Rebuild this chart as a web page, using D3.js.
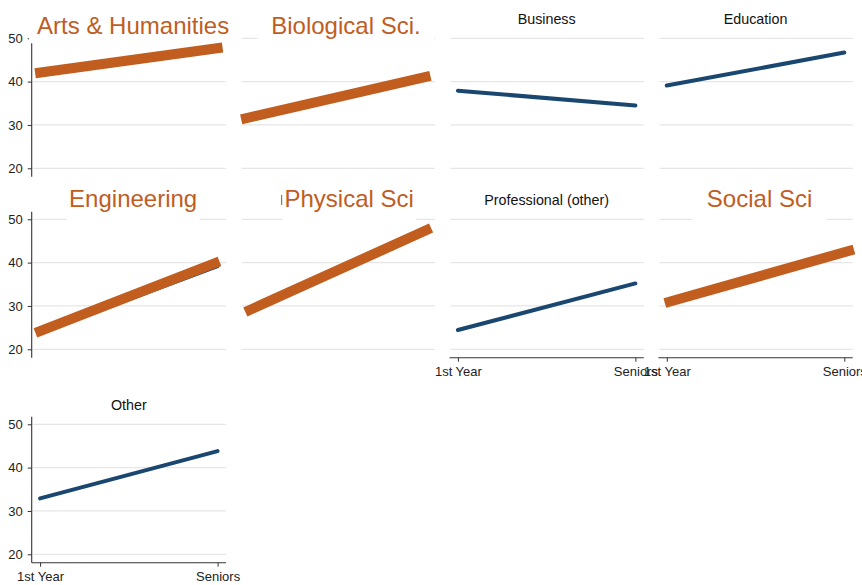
<!DOCTYPE html>
<html><head><meta charset="utf-8">
<script src="https://cdn.jsdelivr.net/npm/d3@7"></script>
<style>
html,body{margin:0;padding:0;background:#fff;}
svg{display:block;font-family:"Liberation Sans",Arial,Helvetica,sans-serif;}
</style></head>
<body><svg id="c" width="862" height="585"></svg>
<script>
// ---- data ----
const categories = ["1st Year", "Seniors"];
const panels = ["Arts & Humanities", "Biological Sciences", "Business", "Education",
  "Engineering", "Physical Sciences", "Professional (other)", "Social Sciences", "Other"];
const firstYear = [42.1, 31.7, 37.9, 39.1, 23.9, 29.0, 24.45, 30.8, 32.9];
const seniors   = [47.7, 41.1, 34.5, 46.7, 39.2, 47.5, 35.2, 42.4, 43.8];
const yTicks = [20, 30, 40, 50];
// highlighted overlays
const hlPanels  = ["Arts & Humanities", "Biological Sciences", "Engineering", "Physical Sciences", "Social Sciences"];
const hlLabels  = ["Arts & Humanities", "Biological Sci.", "Engineering", "Physical Sci", "Social Sci"];
const hlFirst   = [42.1, 31.7, 24.2, 29.0, 30.8];
const hlSeniors = [47.7, 41.1, 40.1, 47.5, 42.4];

// ---- layout / style ----
const BLUE = "#1a476f", ORANGE = "#c05d1f", GRID = "#e6e6e6", AX = "#333";
const rowTop = [30.7, 211.7, 416.7], panelH = 146;
const colLeft0 = 31.7, colStep = 208.9, panelW = 194.3, xPad = 8.4;
const xAxisPanels = ["Professional (other)", "Social Sciences", "Other"];
const hlStyle = {
  "Arts & Humanities":   {dx: 4.3,  dy: 3.3,  boxW: 208, padB: 9.3, ext: [5, 5]},
  "Biological Sciences": {dx: 8.2,  dy: 3.3,  boxW: 176, padB: 9.3, ext: [8, 4]},
  "Engineering":         {dx: 4.3,  dy: -4.4, boxW: 133, padB: 13,  ext: [5, 2]},
  "Physical Sciences":   {dx: 11.4, dy: -4.4, boxW: 134, padB: 13,  ext: [4, 5]},
  "Social Sciences":     {dx: 4,    dy: -4.4, boxW: 134, padB: 13,  ext: [2, 10]}
};

const svg = d3.select("#c");

panels.forEach((name, i) => {
  const r = Math.floor(i / 4), c = i % 4;
  const left = colLeft0 + c * colStep, top = rowTop[r];
  const x = d3.scalePoint().domain(categories).range([left + xPad, left + panelW - xPad]);
  const y = d3.scaleLinear().domain([18.06, 51.75]).range([top + panelH, top]);
  const g = svg.append("g");

  // gridlines
  g.selectAll("line.grid").data(yTicks).enter().append("line")
    .attr("x1", left + 1).attr("x2", left + panelW)
    .attr("y1", d => y(d)).attr("y2", d => y(d))
    .attr("stroke", GRID).attr("stroke-width", 1.2);

  // y axis (first column)
  if (c === 0) {
    const ya = g.append("g").attr("transform", `translate(${left},0)`)
      .call(d3.axisLeft(y).tickValues(yTicks).tickSize(4).tickPadding(5));
    ya.select(".domain").attr("d", `M0,${top}V${top + panelH}`).attr("stroke", AX).attr("stroke-width", 1.1);
    ya.selectAll(".tick line").attr("stroke", AX);
    ya.selectAll("text").attr("font-size", 13).attr("fill", "#222").attr("font-family", "Liberation Sans, Arial, sans-serif");
  }
  // x axis
  if (xAxisPanels.includes(name)) {
    const xa = g.append("g").attr("transform", `translate(0,${top + panelH})`)
      .call(d3.axisBottom(x).tickSize(4).tickPadding(5));
    xa.select(".domain").attr("d", `M${left},0H${left + panelW}`).attr("stroke", AX).attr("stroke-width", 1.1);
    xa.selectAll(".tick line").attr("stroke", AX);
    xa.selectAll("text").attr("font-size", 13).attr("fill", "#222").attr("font-family", "Liberation Sans, Arial, sans-serif");
  }

  // blue line
  const pts = [[categories[0], firstYear[i]], [categories[1], seniors[i]]];
  g.append("path").datum(pts)
    .attr("d", d3.line().x(d => x(d[0])).y(d => y(d[1])))
    .attr("fill", "none").attr("stroke", BLUE).attr("stroke-width", 4).attr("stroke-linecap", "round");

  // black title
  g.append("text").attr("x", left + panelW / 2).attr("y", top - 7)
    .attr("text-anchor", "middle").attr("font-size", 14.3).attr("fill", "#111").text(name);

  // highlight overlay
  const h = hlPanels.indexOf(name);
  if (h >= 0) {
    const s = hlStyle[name];
    const cx = left + panelW / 2 + s.dx, base = top + s.dy;
    g.append("rect").attr("x", cx - s.boxW / 2).attr("y", base - 27)
      .attr("width", s.boxW).attr("height", 27 + s.padB).attr("fill", "#fff");
    g.append("text").attr("x", cx).attr("y", base).attr("text-anchor", "middle")
      .attr("font-size", 24).attr("fill", ORANGE).text(hlLabels[h]);
    const p0 = [x(categories[0]), y(hlFirst[h])], p1 = [x(categories[1]), y(hlSeniors[h])];
    const L = Math.hypot(p1[0] - p0[0], p1[1] - p0[1]);
    const u = [(p1[0] - p0[0]) / L, (p1[1] - p0[1]) / L];
    const seg = [[p0[0] - s.ext[0] * u[0], p0[1] - s.ext[0] * u[1]], [p1[0] + s.ext[1] * u[0], p1[1] + s.ext[1] * u[1]]];
    g.append("path").datum(seg).attr("d", d3.line())
      .attr("fill", "none").attr("stroke", ORANGE).attr("stroke-width", 10).attr("stroke-linecap", "butt");
  }
});
</script></body></html>
